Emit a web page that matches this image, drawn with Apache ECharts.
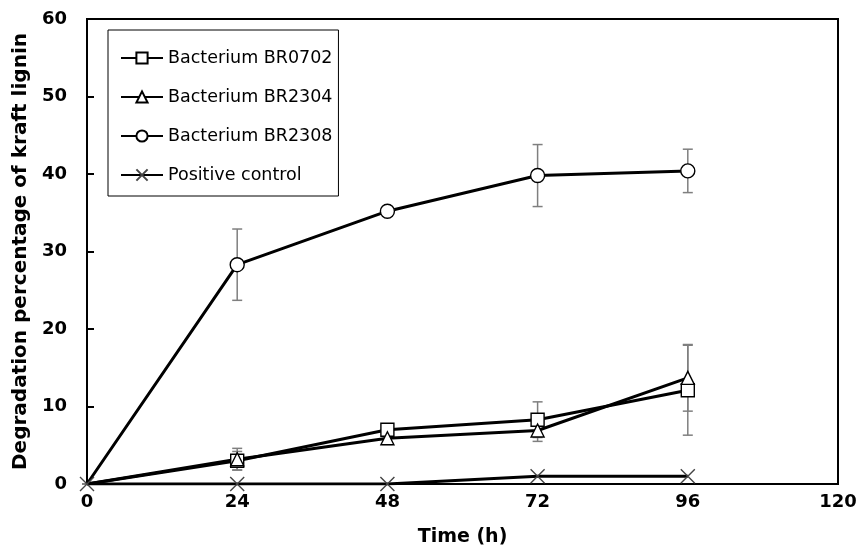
<!DOCTYPE html>
<html>
<head>
<meta charset="utf-8">
<script src="https://cdn.jsdelivr.net/npm/echarts@6/dist/echarts.min.js"></script>
<style>
  html, body { margin: 0; padding: 0; background: #fff; }
  #chart { width: 857px; height: 555px; }
</style>
</head>
<body>
<div id="chart"></div>
<script>
  const hours = [0, 24, 48, 72, 96];
  const xTicks = [0, 24, 48, 72, 96, 120];

  const br0702 = [0, 3.0, 7.0, 8.3, 12.1];
  const br0702Err = [0, 1.2, 0.5, 2.3, 5.8];
  const br2304 = [0, 3.2, 5.9, 6.9, 13.7];
  const br2304Err = [0, 1.4, 0.8, 1.4, 4.3];
  const br2308 = [0, 28.3, 35.2, 39.8, 40.4];
  const br2308Err = [0, 4.6, 0.5, 4.0, 2.8];
  const control = [0, 0, 0, 1, 1];

  const crossPath = 'path://M0,0L10,10M10,0L0,10';
  const font = '"DejaVu Sans", Verdana, sans-serif';

  // the origin point carries no marker except for the control
  function pairs(ys, hideFirst) {
    return hours.map((h, i) => {
      if (hideFirst && i === 0) return { value: [h, ys[i]], symbol: 'none' };
      return [h, ys[i]];
    });
  }

  function errorSeries(ys, errs) {
    return {
      type: 'custom',
      z: 1,
      silent: true,
      data: hours.map((h, i) => [h, ys[i] - errs[i], ys[i] + errs[i]]),
      renderItem: function (params, api) {
        const lo = api.coord([api.value(0), api.value(1)]);
        const hi = api.coord([api.value(0), api.value(2)]);
        const w = 5;
        const style = { stroke: '#7f7f7f', lineWidth: 1.5 };
        return {
          type: 'group',
          children: [
            { type: 'line', shape: { x1: lo[0], y1: lo[1], x2: hi[0], y2: hi[1] }, style: style },
            { type: 'line', shape: { x1: lo[0] - w, y1: lo[1], x2: lo[0] + w, y2: lo[1] }, style: style },
            { type: 'line', shape: { x1: hi[0] - w, y1: hi[1], x2: hi[0] + w, y2: hi[1] }, style: style }
          ]
        };
      }
    };
  }

  function lineSeries(name, ys, symbol, size, markColor, hideFirst) {
    return {
      name: name,
      type: 'line',
      z: 3,
      data: pairs(ys, hideFirst),
      symbol: symbol,
      symbolSize: size,
      showAllSymbol: true,
      lineStyle: { color: '#000', width: 3 },
      itemStyle: { color: '#fff', borderColor: markColor, borderWidth: 1.4 }
    };
  }

  const chart = echarts.init(document.getElementById('chart'));
  chart.setOption({
    animation: false,
    backgroundColor: '#fff',
    grid: {
      left: 87, right: 19, top: 19, bottom: 71,
      outerBoundsMode: 'none',
      show: true, borderColor: '#000', borderWidth: 2
    },
    legend: {
      orient: 'vertical',
      left: 108, top: 30,
      padding: [19, 6, 12, 12],
      borderColor: '#000', borderWidth: 1,
      itemWidth: 42, itemHeight: 14, itemGap: 21,
      textStyle: { fontFamily: font, fontSize: 17.5, color: '#000' },
      data: ['Bacterium BR0702', 'Bacterium BR2304', 'Bacterium BR2308', 'Positive control']
    },
    xAxis: {
      type: 'value',
      min: 0, max: 120, interval: 24,
      name: 'Time (h)',
      nameLocation: 'middle',
      nameGap: 44,
      nameTextStyle: { fontFamily: font, fontSize: 19, fontWeight: 'bold', color: '#000' },
      axisLine: { lineStyle: { color: '#000', width: 2 } },
      axisTick: { show: false },
      axisLabel: {
        margin: 9,
        fontFamily: font, fontSize: 18, fontWeight: 'bold', color: '#000',
        formatter: v => xTicks.includes(v) ? String(v) : ''
      },
      splitLine: { show: false }
    },
    yAxis: {
      type: 'value',
      min: 0, max: 60, interval: 10,
      name: 'Degradation percentage of kraft lignin',
      nameLocation: 'middle',
      nameGap: 50,
      nameTextStyle: { fontFamily: font, fontSize: 20, fontWeight: 'bold', color: '#000' },
      axisLine: { lineStyle: { color: '#000', width: 2 } },
      axisTick: { inside: true, length: 7, lineStyle: { color: '#000', width: 2 } },
      axisLabel: {
        margin: 20,
        fontFamily: font, fontSize: 18, fontWeight: 'bold', color: '#000'
      },
      splitLine: { show: false }
    },
    series: [
      errorSeries(br0702, br0702Err),
      errorSeries(br2304, br2304Err),
      errorSeries(br2308, br2308Err),
      lineSeries('Bacterium BR0702', br0702, 'rect', 13, '#000', true),
      lineSeries('Bacterium BR2304', br2304, 'triangle', 13, '#000', true),
      lineSeries('Bacterium BR2308', br2308, 'circle', 14, '#000', true),
      lineSeries('Positive control', control, crossPath, 14, '#444', false)
    ]
  });
</script>
</body>
</html>
